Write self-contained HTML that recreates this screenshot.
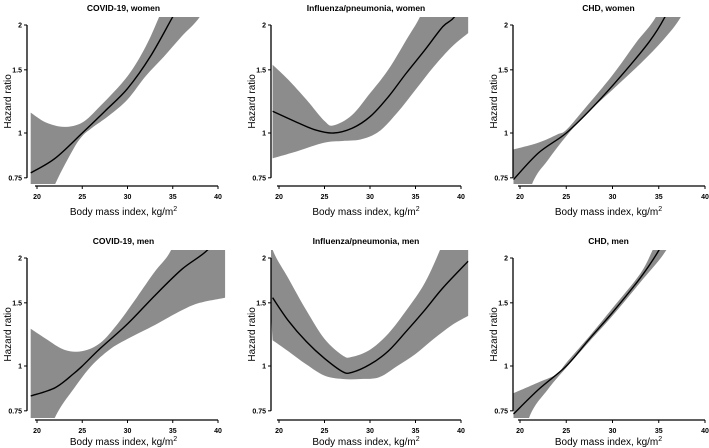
<!DOCTYPE html>
<html><head><meta charset="utf-8"><style>
html,body{margin:0;padding:0;background:#fff;overflow:hidden;width:709px;height:448px;}
svg{display:block;font-family:"Liberation Sans",sans-serif;}
</style></head><body>
<svg id="chart" width="709" height="448" viewBox="0 0 709 448" xmlns="http://www.w3.org/2000/svg" overflow="hidden"></svg>
<script>
// ---- data (BMI, hazard ratio) ----
const xTicks = [20, 25, 30, 35, 40];
const yTicks = [0.75, 1, 1.5, 2];
const yTickLabels = ["0.75", "1", "1.5", "2"];
const titles = ["COVID-19, women","Influenza/pneumonia, women","CHD, women","COVID-19, men","Influenza/pneumonia, men","CHD, men"];

// COVID women
const p1cx=[19.3,22,25,27.5,30,32.5,35,37];           const p1cy=[0.774,0.85,1,1.15,1.33,1.63,2.11,2.6];
const p1ux=[19.3,21,23,25,27,30,32,33.5,35,40.8];      const p1uy=[1.14,1.07,1.04,1.07,1.19,1.44,1.74,2.11,2.6,5];
const p1lx=[19.3,22,24,25,26,28,30,32,34,36,38,40];    const p1ly=[0.5,0.72,0.9,0.98,1.03,1.12,1.24,1.44,1.63,1.86,2.11,2.6];
// Flu women
const p2cx=[19.3,22,24,26,28,30,32,34,36,38,39.3,41]; const p2cy=[1.15,1.07,1.02,1,1.03,1.11,1.26,1.47,1.7,1.98,2.11,2.5];
const p2ux=[19.3,21,23,25,26,28,30,32,34,35.5,37,40.8]; const p2uy=[1.55,1.41,1.24,1.08,1.05,1.12,1.29,1.5,1.82,2.11,2.6,5];
const p2lx=[19.3,22,25,27,29,31,33,35,37,39,40.8];     const p2ly=[0.85,0.89,0.94,0.95,0.96,1.01,1.14,1.32,1.53,1.74,1.9];
// CHD women
const p3cx=[19.3,22,25,28,31,34,35.6,37];             const p3cy=[0.742,0.88,1,1.19,1.45,1.8,2.09,2.5];
const p3ux=[19.3,22,24,25,27,30,32.5,34.7,36];         const p3uy=[0.9,0.94,0.99,1.02,1.17,1.45,1.78,2.11,2.6];
const p3lx=[19.3,21.3,23,25,27,30,33,35.5,37.4,39];    const p3ly=[0.5,0.72,0.84,0.98,1.12,1.32,1.56,1.82,2.11,2.6];
// COVID men
const p4cx=[19.3,22,24,25,27,30,33,36,38.8,40.5];      const p4cy=[0.825,0.87,0.95,1,1.12,1.31,1.57,1.86,2.1,2.4];
const p4ux=[19.3,21,23,25,27,29,31,33,34.8,36,40.8];   const p4uy=[1.27,1.19,1.11,1.1,1.16,1.32,1.55,1.83,2.1,2.6,5];
const p4lx=[19.3,22,24,26,28,30,33,36,38,40.8];        const p4ly=[0.5,0.72,0.86,1,1.11,1.19,1.3,1.43,1.5,1.55];
// Flu men
const p5cx=[19.3,21,23,25,27,28,30,32,34,36,38,40.8];  const p5cy=[1.55,1.34,1.17,1.05,0.964,0.96,1.01,1.1,1.25,1.43,1.65,1.96];
const p5ux=[18.5,19.3,21,23,25,27,28,30,32,34,36,37.7,39,40.8]; const p5uy=[2.6,2.11,1.76,1.43,1.19,1.07,1.06,1.11,1.23,1.43,1.7,2.11,2.6,5];
const p5lx=[19.3,21,23,25,27,29,31,33,35,37,39,40.8];  const p5ly=[1.18,1.1,1.01,0.94,0.92,0.92,0.93,1,1.08,1.19,1.3,1.38];
// CHD men
const p6cx=[19.3,22,25,27.5,30,33,35,36.5];            const p6cy=[0.735,0.86,1,1.19,1.41,1.76,2.1,2.5];
const p6ux=[19.3,22,24,25,27.5,30,33,34.4,36];         const p6uy=[0.84,0.9,0.95,1.02,1.21,1.45,1.81,2.12,2.6];
const p6lx=[19.3,21,23,25,27.5,30,33,35.8,37.5];       const p6ly=[0.5,0.72,0.86,0.99,1.17,1.38,1.71,2.1,2.6];

const series=[[p1cx,p1cy,p1ux,p1uy,p1lx,p1ly],[p2cx,p2cy,p2ux,p2uy,p2lx,p2ly],[p3cx,p3cy,p3ux,p3uy,p3lx,p3ly],
              [p4cx,p4cy,p4ux,p4uy,p4lx,p4ly],[p5cx,p5cy,p5ux,p5uy,p5lx,p5ly],[p6cx,p6cy,p6ux,p6uy,p6lx,p6ly]];

// ---- layout ----
const cols=[{ax:27,x20:37,x40:218},{ax:271,x20:279,x40:461},{ax:513,x20:520,x40:705}];
const rows=[{y2:25,y1:133,axY:186,top:17,title:11,xlab:215},{y2:258,y1:366,axY:420,top:250,title:244,xlab:445}];
const NS="http://www.w3.org/2000/svg";
const svg=document.getElementById('chart');
function mk(tag,attrs,parent){const e=document.createElementNS(NS,tag);for(const k in attrs)e.setAttribute(k,attrs[k]);(parent||svg).appendChild(e);return e;}
function spline(pts){
  let s='';
  for(let i=0;i<pts.length-1;i++){
    const p0=pts[Math.max(0,i-1)],p1=pts[i],p2=pts[i+1],p3=pts[Math.min(pts.length-1,i+2)];
    const c1=[p1[0]+(p2[0]-p0[0])/6,p1[1]+(p2[1]-p0[1])/6];
    const c2=[p2[0]-(p3[0]-p1[0])/6,p2[1]-(p3[1]-p1[1])/6];
    s+=`C${c1[0].toFixed(1)},${c1[1].toFixed(1)} ${c2[0].toFixed(1)},${c2[1].toFixed(1)} ${p2[0].toFixed(1)},${p2[1].toFixed(1)}`;
  }
  return s;
}

for(let i=0;i<6;i++){
  const c=cols[i%3], r=rows[Math.floor(i/3)];
  const kx=(c.x40-c.x20)/20, ky=(r.y1-r.y2)/Math.log(2);
  const X=v=>c.x20+(v-20)*kx, Y=v=>r.y1-Math.log(v)*ky;
  const g=mk('g',{});
  
  
  const cid='clip'+i;
  const cp=mk('clipPath',{id:cid},g);
  mk('rect',{x:c.ax,y:r.top,width:X(40.8)-c.ax,height:r.axY-2-r.top},cp);
  const [cx,cy,ux,uy,lx,ly]=series[i];
  const up=ux.map((v,j)=>[X(v),Y(uy[j])]);
  const lo=lx.map((v,j)=>[X(v),Y(ly[j])]).reverse();
  const d='M'+up[0][0].toFixed(1)+','+up[0][1].toFixed(1)+spline(up)+'L'+lo[0][0].toFixed(1)+','+lo[0][1].toFixed(1)+spline(lo)+'Z';
  const band=mk('path',{d:d,fill:'#8c8c8c','clip-path':'url(#'+cid+')'},g);
  
  
  const cp2=cx.map((v,j)=>[X(v),Y(cy[j])]);
  const line=mk('path',{d:'M'+cp2[0][0].toFixed(1)+','+cp2[0][1].toFixed(1)+spline(cp2),fill:'none',stroke:'#000','stroke-width':1.4,'clip-path':'url(#'+cid+')'},g);
  
  
  const ya=mk('g',{},g);
  
  
  mk('line',{x1:c.ax,x2:c.ax,y1:Y(2),y2:Y(0.75),stroke:'#000','stroke-width':1.3},ya);
  yTicks.forEach((t,j)=>{
    mk('line',{x1:c.ax-3,x2:c.ax,y1:Y(t),y2:Y(t),stroke:'#000','stroke-width':1},ya);
    const tl=mk('text',{x:c.ax-5,y:Y(t)+2.5,'font-size':7,'font-weight':'bold','text-anchor':'end'},ya);
    tl.textContent=yTickLabels[j];
  });
  const ylab=mk('text',{x:0,y:0,'font-size':10,'text-anchor':'middle',transform:`translate(${c.ax-16},${(Y(2)+Y(0.75))/2}) rotate(-90)`},ya);
  ylab.textContent='Hazard ratio';
  
  const xa=mk('g',{},g);
  
  
  mk('line',{x1:c.x20-2,x2:c.x40,y1:r.axY,y2:r.axY,stroke:'#000','stroke-width':1.3},xa);
  xTicks.forEach(t=>{
    mk('line',{x1:X(t),x2:X(t),y1:r.axY,y2:r.axY+3,stroke:'#000','stroke-width':1},xa);
    const tl=mk('text',{x:X(t),y:r.axY+13,'font-size':7,'font-weight':'bold','text-anchor':'middle'},xa);
    tl.textContent=String(t);
  });
  const xl=mk('text',{x:(c.x20+c.x40)/2-4,y:r.xlab,'font-size':10,'text-anchor':'middle'},xa);
  xl.innerHTML='Body mass index, kg/m<tspan dy="-4" font-size="7">2</tspan>';
  
  const tt=mk('text',{x:(c.x20+c.x40)/2-4,y:r.title,'font-size':8.5,'font-weight':'bold','text-anchor':'middle'},g);
  tt.textContent=titles[i];
  
}
</script>
</body></html>
